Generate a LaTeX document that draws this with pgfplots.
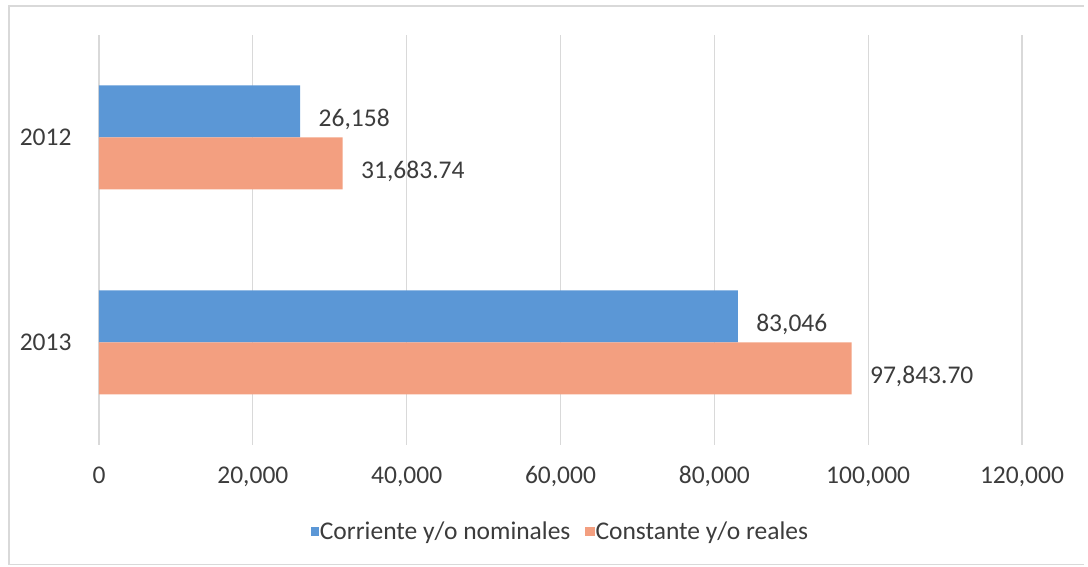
\documentclass[border=0pt]{standalone}
\usepackage{pgfplots}
\pgfplotsset{compat=1.18}
\usepackage{fontspec}
\setmainfont{Carlito}
\definecolor{cblue}{RGB}{91,151,214}
\definecolor{csalmon}{RGB}{243,159,128}
\definecolor{ctext}{RGB}{60,60,60}
\definecolor{cgrid}{RGB}{217,217,217}
\begin{document}
\begin{tikzpicture}[x=1pt,y=1pt]
\path (-99,-122) rectangle (989,445);
\draw[cgrid, line width=1.2pt] (-90,-120) -- (-90,439) -- (985,439);
\draw[cgrid, line width=1pt] (-90,-120) -- (985,-120);
\begin{axis}[
  at={(0,0)}, anchor=south west,
  scale only axis, width=923pt, height=410pt,
  xbar, bar width=52pt,
  xmin=0, xmax=120000,
  ymin=-0.5, ymax=1.5,
  xtick={0,20000,40000,60000,80000,100000,120000},
  xticklabels={0,{20,000},{40,000},{60,000},{80,000},{100,000},{120,000}},
  ytick={0,1}, yticklabels={2013,2012},
  xmajorgrids, grid style={cgrid, line width=1.3pt},
  axis line style={draw=none},
  major tick length=0pt,
  tick label style={font=\fontsize{25.5}{29}\selectfont, text=ctext},
  xticklabel style={yshift=-18pt},
  yticklabel style={xshift=-24pt},
  scaled x ticks=false,
  point meta=explicit symbolic,
  nodes near coords={\pgfplotspointmeta},
  nodes near coords style={anchor=west, font=\fontsize{25.5}{29}\selectfont, text=ctext, xshift=15pt, yshift=-8pt},
  legend style={at={(axis description cs:0.5,-0.21)}, anchor=center, draw=none, fill=none,
    font=\fontsize{25.5}{29}\selectfont, text=ctext, legend columns=2,
    /tikz/every even column/.append style={column sep=12pt},
    /tikz/every odd column/.append style={column sep=-1pt}},
  legend cell align=left,
]
\addplot[fill=cblue, draw=none, bar shift=26pt,
  legend image code/.code={\fill[cblue] (0pt,-5pt) rectangle (8pt,4pt);}]
  table[x=x, y=y, meta=label]{
x y label
26158 1 26,158
83046 0 83,046
};
\addplot[fill=csalmon, draw=none, bar shift=-26pt,
  legend image code/.code={\fill[csalmon] (0pt,-5pt) rectangle (10pt,4pt);}]
  table[x=x, y=y, meta=label]{
x y label
31683.74 1 31,683.74
97843.70 0 97,843.70
};
\legend{Corriente y/o nominales, Constante y/o reales}
\end{axis}
\end{tikzpicture}
\end{document}
